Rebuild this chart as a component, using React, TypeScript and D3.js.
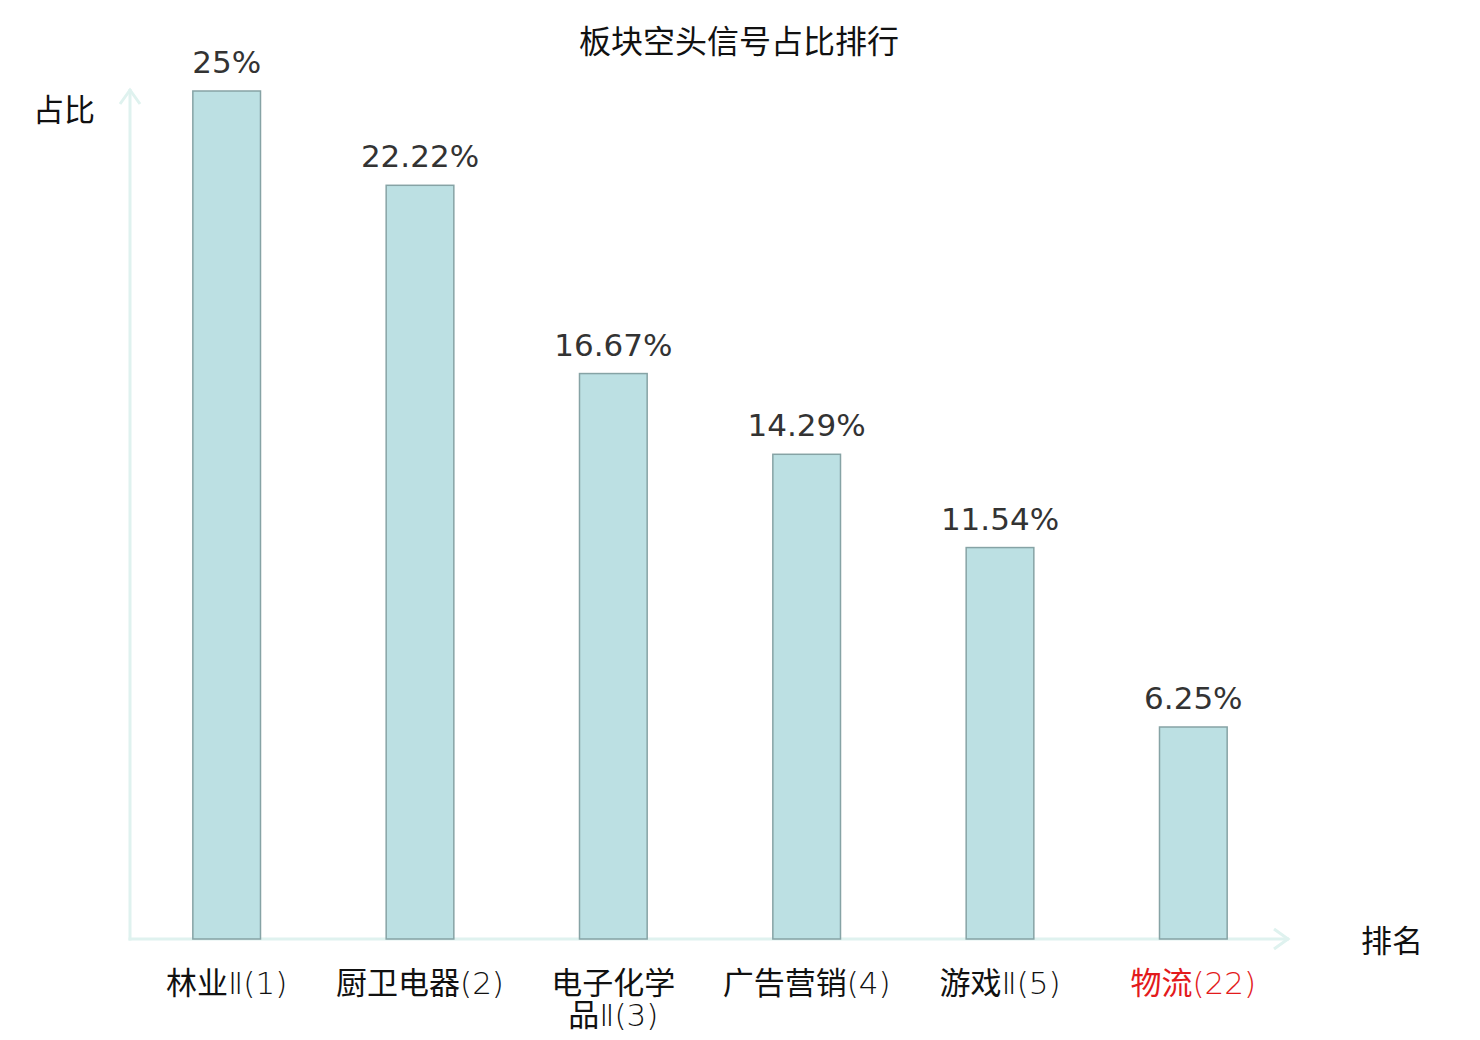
import React, { useEffect, useRef } from "react";
import * as d3 from "d3";

const categories = ["林业Ⅱ(1)", "厨卫电器(2)", "电子化学\n品Ⅱ(3)", "广告营销(4)", "游戏Ⅱ(5)", "物流(22)"];
const values = [25, 22.22, 16.67, 14.29, 11.54, 6.25];
const valueLabels = ["25%", "22.22%", "16.67%", "14.29%", "11.54%", "6.25%"];
const highlighted = ["物流(22)"];
const title = "板块空头信号占比排行";
const yAxisName = "占比";
const xAxisName = "排名";

const W = 1480;
const H = 1040;
const x0 = 130;
const x1 = 1290;
const yBase = 939;
const yTop = 91;

const cjk = "'Noto Sans CJK SC', sans-serif";
const latin = "'DejaVu Sans', sans-serif";
const isCJK = (ch: string) => /[\u3000-\u9fff\uff00-\uffef]/.test(ch);

function runs(s: string): { t: string; c: boolean }[] {
  const out: { t: string; c: boolean }[] = [];
  for (const ch of Array.from(s)) {
    const c = isCJK(ch);
    if (out.length && out[out.length - 1].c === c) out[out.length - 1].t += ch;
    else out.push({ t: ch, c });
  }
  return out;
}

export default function App() {
  const ref = useRef<SVGSVGElement>(null);

  useEffect(() => {
    const svg = d3.select(ref.current);
    svg.selectAll("*").remove();

    const x = d3.scaleBand<string>().domain(categories).range([x0, x1]).paddingInner(0).paddingOuter(0);
    const y = d3.scaleLinear().domain([0, 25]).range([yBase, yTop]);
    const barW = x.bandwidth() * 0.35;
    const axisColor = "#dff2ef";

    svg.append("text")
      .attr("x", 739).attr("y", 53)
      .attr("text-anchor", "middle")
      .attr("font-family", cjk).attr("font-size", 32)
      .attr("fill", "#111")
      .text(title);

    svg.append("line").attr("x1", x0).attr("x2", x0).attr("y1", yBase + 1.5).attr("y2", 89)
      .attr("stroke", axisColor).attr("stroke-width", 3);
    svg.append("path").attr("d", `M${x0 - 10},${104} L${x0},${90} L${x0 + 10},${104}`)
      .attr("fill", "none").attr("stroke", axisColor).attr("stroke-width", 3);
    svg.append("line").attr("x1", x0 - 1.5).attr("x2", 1289).attr("y1", yBase).attr("y2", yBase)
      .attr("stroke", axisColor).attr("stroke-width", 3);
    svg.append("path").attr("d", `M${1274},${929} L${1288},${939} L${1274},${949}`)
      .attr("fill", "none").attr("stroke", axisColor).attr("stroke-width", 3);

    svg.append("g").selectAll("rect").data(categories).join("rect")
      .attr("x", (d) => (x(d) as number) + x.bandwidth() / 2 - barW / 2)
      .attr("y", (_d, i) => y(values[i]))
      .attr("width", barW)
      .attr("height", (_d, i) => yBase - y(values[i]))
      .attr("fill", "#bce0e3")
      .attr("stroke", "#86a3a5")
      .attr("stroke-width", 1.5);

    svg.append("g").selectAll("text").data(categories).join("text")
      .attr("x", (d) => (x(d) as number) + x.bandwidth() / 2)
      .attr("y", (_d, i) => y(values[i]) - 18)
      .attr("text-anchor", "middle")
      .attr("font-family", latin)
      .attr("font-size", 31)
      .attr("fill", "#333")
      .text((_d, i) => valueLabels[i]);

    const tg = svg.append("g");
    categories.forEach((c) => {
      const cx = (x(c) as number) + x.bandwidth() / 2;
      const color = highlighted.includes(c) ? "#e31a1c" : "#111";
      c.split("\n").forEach((line, li) => {
        const t = tg.append("text")
          .attr("x", cx).attr("y", 994 + li * 32)
          .attr("text-anchor", "middle")
          .attr("font-size", 31)
          .attr("fill", color);
        runs(line).forEach((r) => {
          t.append("tspan")
            .attr("font-family", r.c ? cjk : latin)
            .attr("font-weight", r.c ? 400 : 200)
            .text(r.t);
        });
      });
    });

    svg.append("text").attr("x", 33).attr("y", 121)
      .attr("font-family", cjk).attr("font-size", 31).attr("fill", "#111").text(yAxisName);
    svg.append("text").attr("x", 1361).attr("y", 952)
      .attr("font-family", cjk).attr("font-size", 31).attr("fill", "#111").text(xAxisName);
  }, []);

  return (
    <svg ref={ref} width={W} height={H} style={{ position: "absolute", left: 0, top: 0, background: "#fff" }} />
  );
}
